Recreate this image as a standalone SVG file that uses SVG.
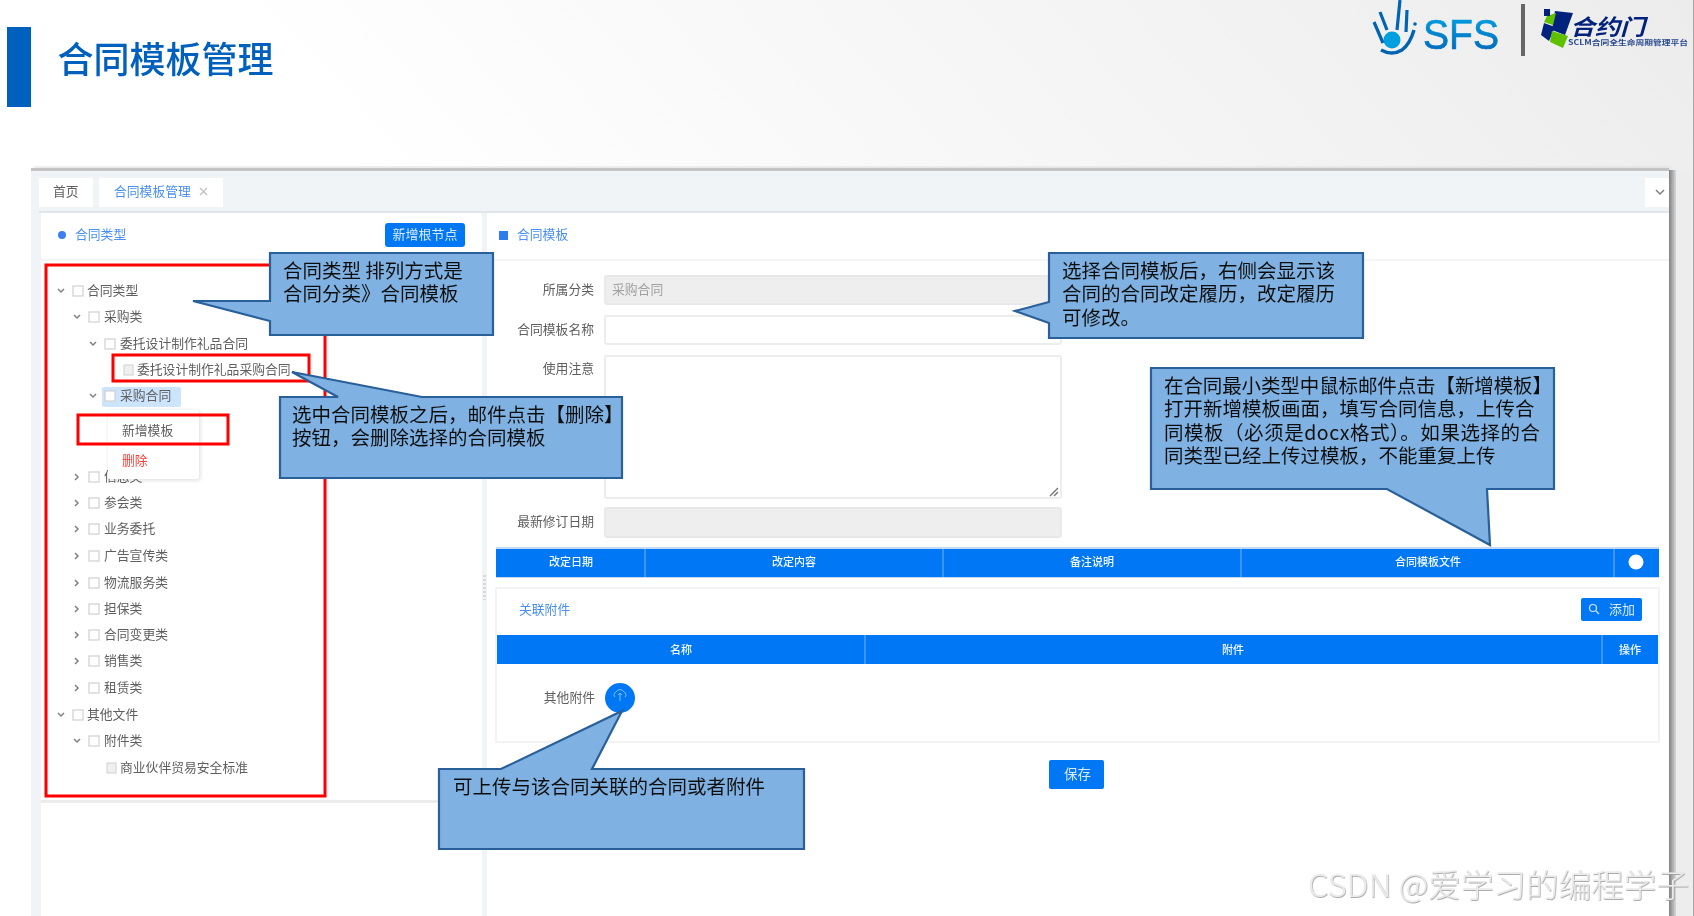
<svg xmlns="http://www.w3.org/2000/svg" width="1694" height="916" viewBox="0 0 1694 916">
<defs>
<linearGradient id="bg" x1="0.3" y1="0.35" x2="1" y2="0"><stop offset="0" stop-color="#ffffff"/><stop offset="1" stop-color="#ececec"/></linearGradient>
<linearGradient id="edge" x1="0" y1="0" x2="1" y2="0"><stop offset="0" stop-color="#808080"/><stop offset="1" stop-color="#d8d8d8"/></linearGradient>
<linearGradient id="sfs" x1="0" y1="0" x2="0" y2="1"><stop offset="0" stop-color="#00a8e8"/><stop offset="1" stop-color="#0060b4"/></linearGradient>
<filter id="b" x="-5%" y="-20%" width="110%" height="140%"><feGaussianBlur stdDeviation="0.75"/></filter>
<filter id="s" x="-5%" y="-5%" width="110%" height="110%"><feGaussianBlur stdDeviation="0.35"/></filter>
<filter id="soft" x="-20%" y="-20%" width="140%" height="140%"><feGaussianBlur stdDeviation="2"/></filter>
<filter id="wm" x="-5%" y="-20%" width="110%" height="140%"><feDropShadow dx="0.6" dy="0.8" stdDeviation="0.5" flood-color="#999999"/></filter>
</defs>
<style>
text{font-family:"Noto Sans CJK SC","Liberation Sans",sans-serif}
.t{font-size:12.8px;fill:#5e5e5e}
.l{font-size:12.8px;fill:#5e5e5e;text-anchor:end}
.bl{font-size:12.8px;fill:#4a8ff5}
.h{font-size:11px;fill:#f2f8ff;text-anchor:middle;font-weight:500}
.c{font-size:19.5px;fill:#111111}
.cb{fill:#7fb2e3;stroke:#2a6099;stroke-width:2.2;stroke-linejoin:miter}
.red{fill:none;stroke:#ff0000;stroke-width:3}
.chk{fill:#ffffff;stroke:#d0d0d0;stroke-width:1.2}
.ch{fill:none;stroke:#808080;stroke-width:1.5}
.fd{fill:#ffffff;stroke:#ececec;stroke-width:1.8}
.fg{fill:#eeeeee;stroke:#e8e8e8;stroke-width:1.8}
.th{fill:#0078f5}
.sep{stroke:#4d9cf5;stroke-width:1.6}
</style>
<rect width="1694" height="916" fill="url(#bg)"/>
<rect x="1693" y="0" width="1" height="916" fill="#a8a8a8"/>

<g id="header" filter="url(#s)">
<rect x="7" y="27" width="24" height="80" fill="#0060bd"/>
<text x="57.500" y="73" font-size="36" font-weight="500" fill="#0060bd">合同模板管理</text>
</g>

<g id="logo-sfs" filter="url(#s)">
<circle cx="1392" cy="40" r="8.5" fill="#00a0e0"/>
<path d="M1381 50 Q1392 56 1402 50 Q1410 44 1414 30" fill="none" stroke="#0064b4" stroke-width="3.4"/>
<path d="M1374 22 L1383 43 M1380 12 L1387 30 M1400 0 L1397 30 M1407 10 L1406 32" fill="none" stroke="#0064b4" stroke-width="3.2"/>
<circle cx="1415" cy="24" r="1.8" fill="#0064b4"/>
<text x="1423" y="49" font-size="43" fill="url(#sfs)" stroke="url(#sfs)" stroke-width="0.7" textLength="76" lengthAdjust="spacingAndGlyphs" style="font-family:'Liberation Sans',sans-serif">SFS</text>
<rect x="1521" y="4" width="4" height="52" fill="#666666"/>
</g>
<g id="logo-contract" filter="url(#s)">
<polygon points="1555,11 1573,13 1565,35 1552,30" fill="#00247d"/>
<polygon points="1544,23 1555,27 1549,41 1541,35" fill="#00247d"/>
<polygon points="1552,31 1568,36 1563,48 1550,42" fill="#5fc000"/>
<polygon points="1547,16 1556,13 1553,25 1544,22" fill="#5fc000"/>
<rect x="1544" y="9" width="6" height="7" fill="#00247d"/>
<text x="1570" y="35" font-size="22" font-style="italic" font-weight="700" fill="#00247d" textLength="75" lengthAdjust="spacingAndGlyphs">合约门</text>
<text x="1568" y="45" font-size="7" font-weight="700" fill="#2a4a90" textLength="120" lengthAdjust="spacingAndGlyphs">SCLM合同全生命周期管理平台</text>
</g>

<g id="screen">
<rect x="34" y="167" width="1636" height="4" fill="#d8d8d8" filter="url(#soft)"/>
<rect x="31" y="168" width="1638" height="3" fill="#c4c4c4"/>
<rect x="1669" y="170" width="7" height="746" fill="url(#edge)"/>
<rect x="1676" y="170" width="17" height="746" fill="#ededed"/>
<rect x="31" y="171" width="1638" height="745" fill="#f0f4f7"/>
<rect x="39" y="211" width="1630" height="2" fill="#e2e6ea"/>
<rect x="41" y="213" width="441" height="703" fill="#ffffff"/>
<rect x="41" y="800" width="441" height="3" fill="#ececec"/>
<rect x="487" y="213" width="1182" height="703" fill="#ffffff"/>
<rect x="41" y="259" width="441" height="2" fill="#f5f5f5"/>
<rect x="487" y="259" width="1182" height="2" fill="#f5f5f5"/>
<path d="M484.500 575V600" stroke="#d8d8d8" stroke-width="3" stroke-dasharray="2 2"/>
</g>

<g id="tabs" filter="url(#b)">
<rect x="39" y="178" width="54" height="29" fill="#ffffff"/>
<rect x="99" y="178" width="124" height="29" fill="#ffffff"/>
<rect x="1645" y="178" width="24" height="29" fill="#ffffff"/>
<text x="53" y="195.500" class="t">首页</text>
<text x="114" y="195.500" class="bl">合同模板管理</text>
<path d="M200 188L207 195M207 188L200 195" stroke="#c0c0c0" stroke-width="1.3"/>
<path d="M1656 190L1660 194L1664 190" class="ch"/>
</g>

<g id="left-head" filter="url(#b)">
<circle cx="62" cy="235" r="4" fill="#3d7ff0"/>
<text x="75" y="239" class="bl">合同类型</text>
<rect x="385" y="223" width="80" height="24" rx="3" fill="#0078f5"/>
<text x="425" y="239" font-size="13" fill="#d8e9ff" text-anchor="middle">新增根节点</text>
</g>

<g id="tree" filter="url(#b)">
<path d="M58 289L61 292L64 289M74 315L77 318L80 315M90 342L93 345L96 342M90 394L93 397L96 394M58 713L61 716L64 713M74 739L77 742L80 739" class="ch"/>
<path d="M75 474L78 477L75 480M75 500L78 503L75 506M75 526L78 529L75 532M75 553L78 556L75 559M75 580L78 583L75 586M75 606L78 609L75 612M75 632L78 635L75 638M75 658L78 661L75 664M75 685L78 688L75 691" class="ch"/>
<rect x="102" y="387" width="79" height="20" rx="2" fill="#cce4fc"/>
<rect x="73" y="286" width="10" height="10" class="chk"/><text x="87" y="295" class="t">合同类型</text>
<rect x="89" y="312" width="10" height="10" class="chk"/><text x="104" y="321" class="t">采购类</text>
<rect x="105" y="339" width="10" height="10" class="chk"/><text x="120" y="348" class="t">委托设计制作礼品合同</text>
<rect x="124" y="365" width="9" height="10" fill="#f0f0f0" stroke="#d0d0d0"/><text x="137" y="374" class="t">委托设计制作礼品采购合同</text>
<rect x="105" y="391" width="10" height="10" class="chk"/><text x="120" y="400" class="t">采购合同</text>
<rect x="89" y="472" width="10" height="10" class="chk"/><text x="104" y="481" class="t">信息类</text>
<rect x="89" y="498" width="10" height="10" class="chk"/><text x="104" y="507" class="t">参会类</text>
<rect x="89" y="524" width="10" height="10" class="chk"/><text x="104" y="533" class="t">业务委托</text>
<rect x="89" y="551" width="10" height="10" class="chk"/><text x="104" y="560" class="t">广告宣传类</text>
<rect x="89" y="578" width="10" height="10" class="chk"/><text x="104" y="587" class="t">物流服务类</text>
<rect x="89" y="604" width="10" height="10" class="chk"/><text x="104" y="613" class="t">担保类</text>
<rect x="89" y="630" width="10" height="10" class="chk"/><text x="104" y="639" class="t">合同变更类</text>
<rect x="89" y="656" width="10" height="10" class="chk"/><text x="104" y="665" class="t">销售类</text>
<rect x="89" y="683" width="10" height="10" class="chk"/><text x="104" y="692" class="t">租赁类</text>
<rect x="73" y="710" width="10" height="10" class="chk"/><text x="87" y="719" class="t">其他文件</text>
<rect x="89" y="736" width="10" height="10" class="chk"/><text x="104" y="745" class="t">附件类</text>
<rect x="107" y="763" width="9" height="10" fill="#f0f0f0" stroke="#d0d0d0"/><text x="120" y="772" class="t">商业伙伴贸易安全标准</text>
</g>

<g id="context-menu">
<rect x="109" y="411" width="91" height="69" fill="#000000" opacity="0.14" filter="url(#soft)"/>
<rect x="108" y="410" width="91" height="69" rx="2" fill="#ffffff"/>
<g filter="url(#b)">
<text x="122" y="435" class="t">新增模板</text>
<text x="122" y="464.500" font-size="12.800" fill="#ff3b30">删除</text>
</g>
</g>

<g id="right-form" filter="url(#b)">
<rect x="499" y="231" width="9" height="9" fill="#2f7df0"/>
<text x="517" y="239" class="bl">合同模板</text>
<rect x="605" y="276" width="456" height="28" rx="2" class="fg"/>
<text x="612" y="294" font-size="12.800" fill="#a0a0a0">采购合同</text>
<text x="594" y="294" class="l">所属分类</text>
<rect x="605" y="316" width="456" height="28" rx="2" class="fd"/>
<text x="594" y="334" class="l">合同模板名称</text>
<rect x="605" y="356" width="456" height="142" rx="2" class="fd"/>
<text x="594" y="373" class="l">使用注意</text>
<path d="M1050 496L1058 488M1054 496L1058 492" stroke="#777777" stroke-width="1.4"/>
<rect x="605" y="508" width="456" height="29" rx="2" class="fg"/>
<text x="594" y="526" class="l">最新修订日期</text>
</g>

<g id="table-history" filter="url(#b)">
<rect x="496" y="547" width="1163" height="31" fill="#c2daf4"/>
<rect x="496" y="549" width="1163" height="28" class="th"/>
<path d="M645 549V577M943 549V577M1241 549V577M1614 549V577" class="sep"/>
<text x="571" y="566" class="h">改定日期</text>
<text x="794" y="566" class="h">改定内容</text>
<text x="1092" y="566" class="h">备注说明</text>
<text x="1428" y="566" class="h">合同模板文件</text>
<circle cx="1636" cy="562" r="7.500" fill="#ffffff"/>
</g>

<g id="attachments" filter="url(#b)">
<rect x="496" y="588" width="1163" height="154" fill="#ffffff" stroke="#f0f0f0" stroke-width="1.6"/>
<text x="519" y="613.500" class="bl">关联附件</text>
<rect x="1581" y="598" width="61" height="23" rx="2" fill="#0078f5"/>
<circle cx="1593" cy="608" r="3.500" fill="none" stroke="#cfe4ff" stroke-width="1.200"/>
<path d="M1596 611L1599 614" stroke="#cfe4ff" stroke-width="1.200"/>
<text x="1609" y="613.500" font-size="13" fill="#d8e9ff">添加</text>
<rect x="497" y="635" width="1161" height="29" class="th"/>
<path d="M865 635V664M1602 635V664" class="sep"/>
<text x="681" y="654" class="h">名称</text>
<text x="1233" y="654" class="h">附件</text>
<text x="1630" y="654" class="h">操作</text>
<text x="595" y="702" class="l">其他附件</text>
<circle cx="620" cy="698" r="15" fill="#0078f5"/>
<path d="M615 697A3 3 0 0 1 616 692A4.500 4.500 0 0 1 624 692A3 3 0 0 1 625 697M620 701V693M618 695L620 693L622 695" fill="none" stroke="#7fbcff" stroke-width="1"/>
</g>

<g id="save-button" filter="url(#b)">
<rect x="1049" y="760" width="55" height="29" rx="2" fill="#0078f5"/>
<text x="1064" y="779" font-size="13.500" fill="#d8e9ff">保存</text>
</g>

<g id="red-boxes">
<rect x="46" y="265" width="279" height="531" class="red"/>
<rect x="113" y="355" width="196" height="26" class="red"/>
<rect x="78" y="415" width="150" height="29" class="red"/>
</g>

<g id="callout-sort" filter="url(#s)">
<polygon points="270,253 493,253 493,335 270,335 270,321 193,301 270,301" class="cb"/>
<text x="283" y="278" class="c">合同类型 排列方式是</text>
<text x="283" y="301" class="c">合同分类》合同模板</text>
</g>
<g id="callout-delete" filter="url(#s)">
<polygon points="280,397 338,397 292,372 422,397 622,397 622,478 280,478" class="cb"/>
<text x="292" y="422" class="c">选中合同模板之后，邮件点击【删除】</text>
<text x="292" y="445" class="c">按钮，会删除选择的合同模板</text>
</g>
<g id="callout-history" filter="url(#s)">
<polygon points="1049,253 1363,253 1363,338 1049,338 1049,323 1015,311 1049,302" class="cb"/>
<text x="1062" y="278" class="c">选择合同模板后，右侧会显示该</text>
<text x="1062" y="301" class="c">合同的合同改定履历，改定履历</text>
<text x="1062" y="325" class="c">可修改。</text>
</g>
<g id="callout-add" filter="url(#s)">
<polygon points="1151,368 1554,368 1554,489 1487,489 1490,545 1387,489 1151,489" class="cb"/>
<text x="1164" y="393" class="c" textLength="388">在合同最小类型中鼠标邮件点击【新增模板】</text>
<text x="1164" y="416" class="c">打开新增模板画面，填写合同信息，上传合</text>
<text x="1164" y="440" class="c" textLength="376">同模板（必须是docx格式）。如果选择的合</text>
<text x="1164" y="463" class="c">同类型已经上传过模板，不能重复上传</text>
</g>
<g id="callout-upload" filter="url(#s)">
<polygon points="439,769 501,769 622,711 592,769 804,769 804,849 439,849" class="cb"/>
<text x="453" y="794" class="c">可上传与该合同关联的合同或者附件</text>
</g>

<g id="watermark">
<text x="1308" y="897" font-size="32" font-weight="300" fill="#ebebeb" filter="url(#wm)" textLength="381" lengthAdjust="spacingAndGlyphs">CSDN @爱学习的编程学子</text>
</g>
</svg>
